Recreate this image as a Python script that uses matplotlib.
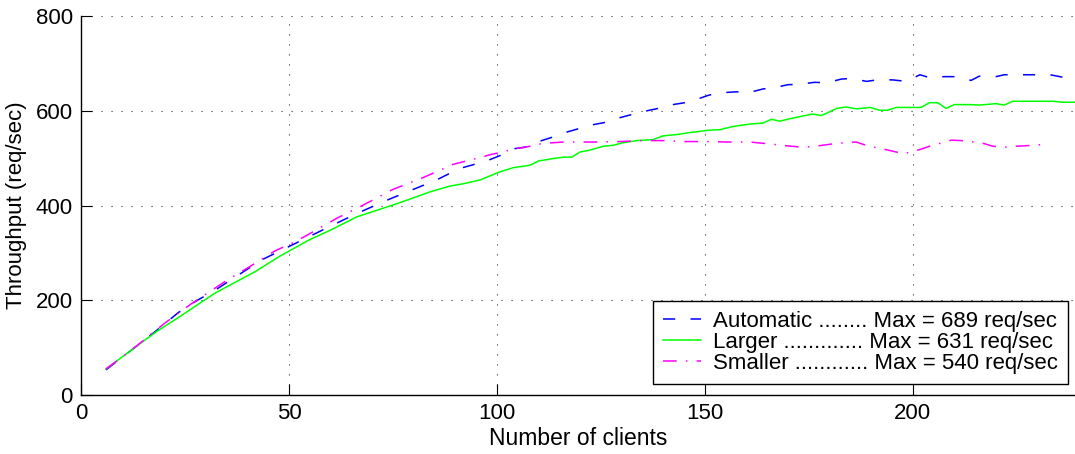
import matplotlib
matplotlib.use("Agg")
import matplotlib.pyplot as plt

plt.rcParams['font.family'] = ['Liberation Sans', 'DejaVu Sans']

# ---- data ----
auto_x = [6, 12, 18, 23.4, 28, 32.2, 37.8, 43.4, 49, 55,
          60.6, 66.3, 73.5, 79.9, 85.5, 91, 97.5, 101.5, 104.3, 108,
          110.4, 114, 116.8, 120, 122.8, 126.4, 129, 132.4, 135.6, 138.8,
          141.6, 145.2, 148, 151, 154, 157.6, 160.4, 164, 166.8, 170,
          172.8, 176.4, 179.3, 182.9, 185.3, 188.9, 192, 195.3, 198.5, 201.7,
          204, 207.7, 211, 214, 216, 220, 222, 226.5, 233, 236.5,
          239]
auto_y = [53, 94, 135, 174, 200, 221, 253, 285, 309, 335,
          359, 383, 411, 434, 454, 478, 494, 508, 520, 525,
          536, 546, 555, 563, 570, 576, 584, 592, 599, 605,
          612, 617, 624, 633, 638, 640, 638, 646, 649, 655,
          656, 660, 659, 667, 668, 662, 666, 665, 662, 676,
          670, 672, 672, 664, 673, 672, 676, 676, 676, 670,
          666]

larger_x = [6, 12, 18, 24, 32.2, 41.8, 47.8,
            55, 60, 66.3, 74.3, 78.3, 84, 88.7, 92, 96, 100.7,
            104, 108, 110, 113.5, 116, 118, 120, 122.4, 125.5, 128, 130, 133.6,
            137.5, 140, 143.5, 146.4, 148.4, 151,
            153.6, 156.4, 158.4, 161, 164, 166, 168, 170.4, 173.6, 176, 178,
            179.6, 181.7, 184, 186.4, 189.8, 192, 194,
            196, 202, 204, 206, 208, 210, 213.7, 216, 220, 222, 224, 233.7, 236, 239]
larger_y = [55, 94, 133, 167, 215, 260, 293,
            328, 348, 376, 399, 411, 429, 441, 446, 454, 471,
            480, 485, 494, 499, 502, 502, 513, 517, 525, 527, 532, 537,
            539, 547, 550, 554, 556, 559,
            560, 566, 569, 572, 574, 582, 578, 583, 589, 593, 590,
            596, 605, 608, 604, 607, 601, 601,
            607, 607, 617, 617, 605, 613, 613, 612, 615, 612, 620, 620, 618, 618]

smaller_x = [6, 12, 20.2, 26.6, 35.4, 40.2, 46.6, 51.4, 54.3, 61.5,
             67, 75, 82.3, 89.5, 95.9, 98.7, 101.5, 104, 106.3, 111,
             116, 124, 129.6, 134.4, 140, 144.8, 151, 155, 160.8, 165.6,
             168.4, 173.6, 176.4, 180.8, 184, 186.4, 188.8, 191.7, 194, 197,
             198, 199.3, 201.7, 204, 206.5, 209.3, 211.7, 214, 217, 219.3,
             222, 224.5, 227, 232]
smaller_y = [55, 94, 152, 193, 244, 269, 304, 323, 337, 373,
             397, 434, 459, 487, 501, 508, 513, 520, 522, 531,
             534, 534, 535, 537, 537, 535, 535, 534, 534, 530,
             527, 523, 525, 530, 533, 534, 527, 521, 517, 511,
             509, 513, 518, 525, 531, 538, 537, 535, 531, 525,
             523, 525, 526, 529]

labels = ["Automatic ........ Max = 689 req/sec",
          "Larger ............. Max = 631 req/sec",
          "Smaller ............ Max = 540 req/sec"]

x_ticks = [0, 50, 100, 150, 200]
y_ticks = [0, 200, 400, 600, 800]

# ---- figure ----
fig = plt.figure(figsize=(10.75, 4.54), dpi=100)
ax = fig.add_axes([81/1075, 1 - 395/454, 1 - 81/1075, (395 - 16)/454])

ax.plot(auto_x, auto_y, color=(0, 0, 1), lw=1.1, linestyle=(0, (8, 10)), label=labels[0])
ax.plot(larger_x, larger_y, color=(0, 1, 0), lw=1.1, linestyle='-', label=labels[1])
ax.plot(smaller_x, smaller_y, color=(1, 0, 1), lw=1.1, linestyle=(0, (9, 6, 1, 6)), label=labels[2])

ax.set_xlim(0, 239)
ax.set_ylim(0, 800)
ax.set_xticks(x_ticks)
ax.set_yticks(y_ticks)
ax.tick_params(direction='in', length=8, width=0.8, labelsize=16, pad=6,
               top=False, right=False)
ax.grid(True, color='#333333', linestyle=(0, (1, 8)), lw=0.8)
for s in ['top', 'right']:
    ax.spines[s].set_visible(False)
for s in ['left', 'bottom']:
    ax.spines[s].set_linewidth(1.0)

ax.set_xlabel("Number of clients", fontsize=16.5, labelpad=2)
ax.set_ylabel("Throughput (req/sec)", fontsize=16, labelpad=6)

leg = ax.legend(loc='lower right', bbox_to_anchor=(1 - 7/994, 11/379),
                borderaxespad=0, fontsize=16, frameon=True, fancybox=False,
                edgecolor='black', framealpha=1, handlelength=1.7,
                handletextpad=0.55, labelspacing=0.0, borderpad=0.45)
leg.get_frame().set_linewidth(1.0)

fig.savefig("out.png", dpi=100)
